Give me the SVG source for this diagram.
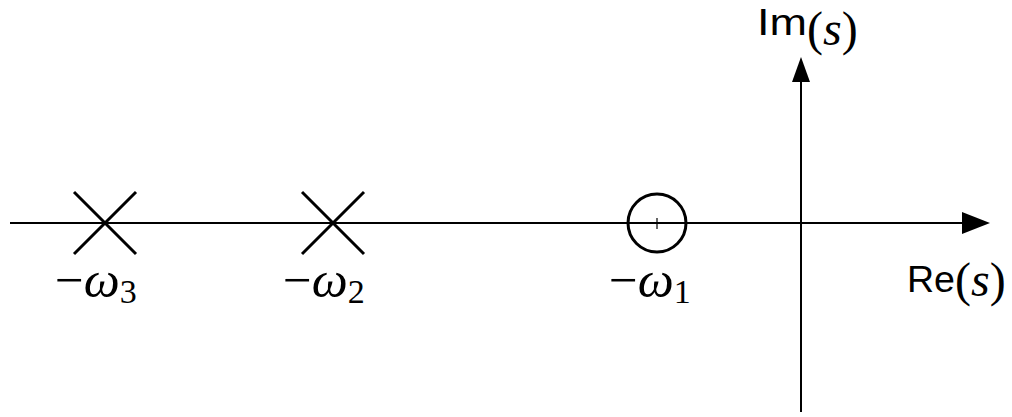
<svg xmlns="http://www.w3.org/2000/svg" width="1012" height="417" viewBox="0 0 1012 417">
<style>
.ax{stroke:#000;stroke-width:2;fill:none}
.mk{stroke:#000;stroke-width:3;fill:none}
.sans{font-family:"Liberation Sans","DejaVu Sans",sans-serif;font-size:36px;fill:#000}
.ser{font-family:"Liberation Serif","DejaVu Serif",serif;font-size:48px;fill:#000}
.lab{font-family:"Liberation Serif","DejaVu Serif",serif;font-size:51px;fill:#000}
.it{font-style:italic}
.sub{font-size:34px}
</style>
<g id="connectors">
<line class="ax" x1="10" y1="223" x2="962" y2="223"/>
<path d="M962,212 L990,223 L962,234 Z" fill="#000"/>
<line class="ax" x1="801" y1="412" x2="801" y2="82"/>
<path d="M792,82 L801,57 L810,82 Z" fill="#000"/>
</g>
<g id="pole3">
<line class="mk" x1="74" y1="192" x2="136" y2="254"/>
<line class="mk" x1="136" y1="192" x2="74" y2="254"/>
<text class="lab" x="55" y="297">−<tspan class="it">ω</tspan><tspan class="sub" dy="6">3</tspan></text>
</g>
<g id="pole2">
<line class="mk" x1="302" y1="192" x2="364" y2="254"/>
<line class="mk" x1="364" y1="192" x2="302" y2="254"/>
<text class="lab" x="283" y="297">−<tspan class="it">ω</tspan><tspan class="sub" dy="6">2</tspan></text>
</g>
<g id="zero1">
<circle class="mk" cx="657" cy="223" r="29"/>
<line x1="657" y1="218" x2="657" y2="229" stroke="#000" stroke-width="1.2"/>
<text class="lab" x="609" y="297">−<tspan class="it">ω</tspan><tspan class="sub" dy="6">1</tspan></text>
</g>
<g id="relabel">
<text class="sans" x="907" y="292" textLength="48" lengthAdjust="spacingAndGlyphs">Re</text>
<text class="ser" x="955" y="296">(<tspan class="it">s</tspan>)</text>
</g>
<g id="imlabel">
<text class="sans" x="757" y="35" textLength="50" lengthAdjust="spacingAndGlyphs">Im</text>
<text class="ser" x="807" y="45">(<tspan class="it">s</tspan>)</text>
</g>
</svg>
